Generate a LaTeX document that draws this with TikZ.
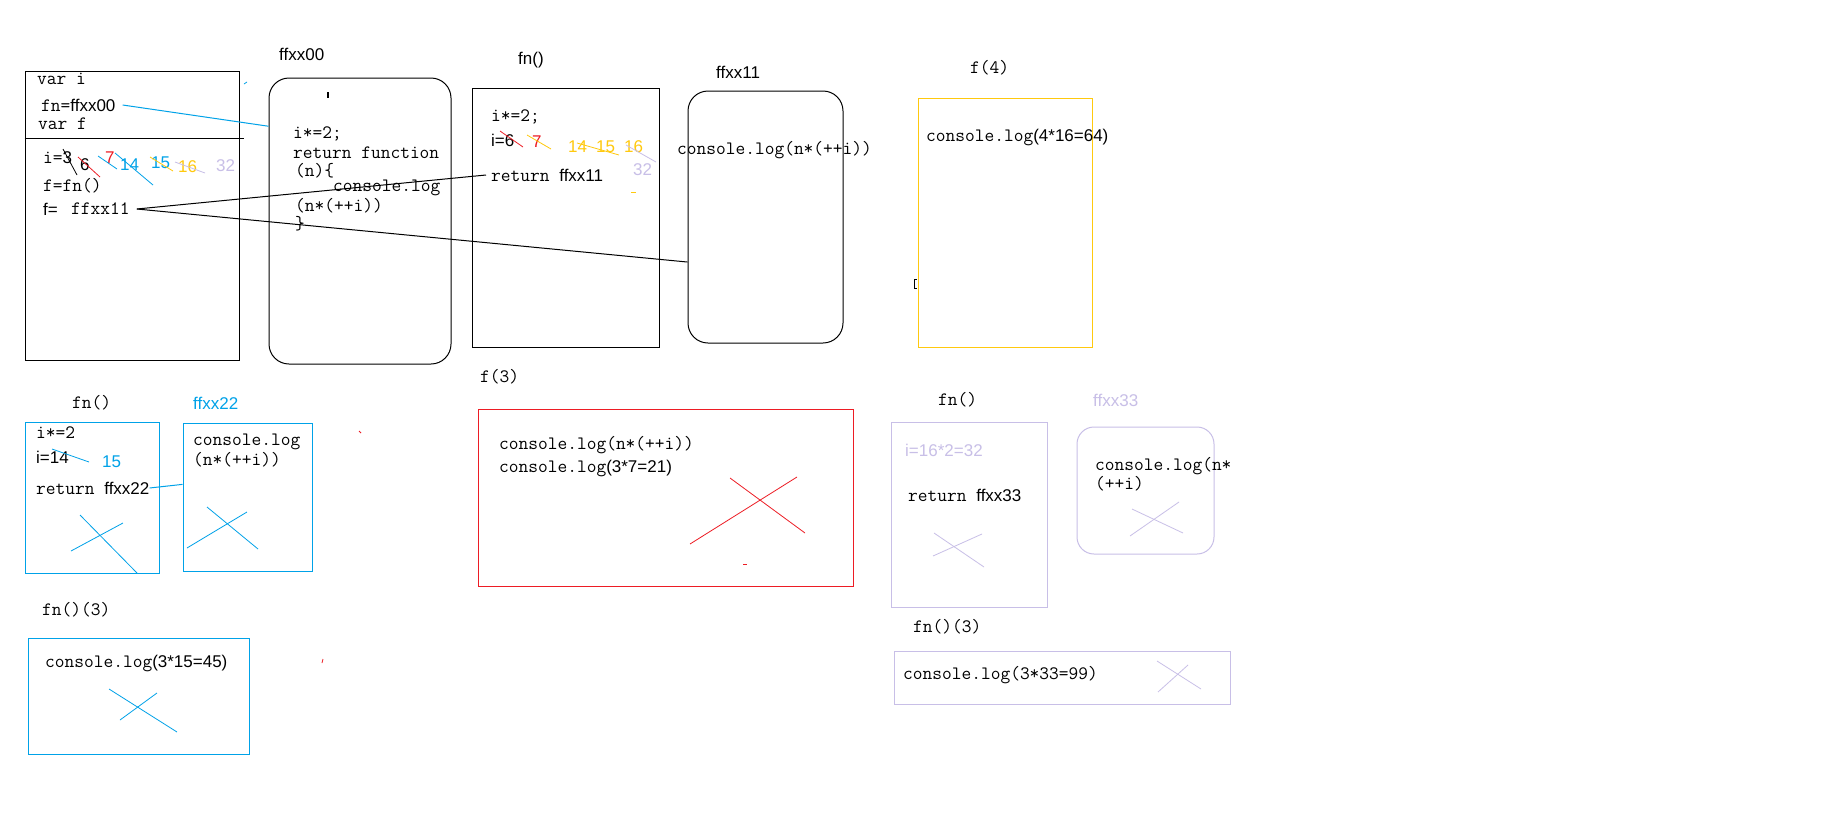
\documentclass[tikz,border=0pt]{standalone}
\usepackage{fontspec}
\setmainfont{Liberation Sans}
\setsansfont{Liberation Sans}
\usepackage{xcolor}
\usepackage{tikz}
\usetikzlibrary{calc}

\definecolor{pblue}{RGB}{0,162,232}
\definecolor{pred}{RGB}{237,28,36}
\definecolor{pyellow}{RGB}{255,201,14}
\definecolor{plav}{RGB}{200,191,231}

\newcommand{\sfpart}[1]{{\fontsize{17}{19}\selectfont\sffamily #1}}

\begin{document}
\begin{tikzpicture}[
    x=1pt, y=-1pt,
    stackbox/.style={rectangle, draw, line width=1pt, inner sep=0pt},
    heapbox/.style={stackbox, rounded corners=20pt},
    codetxt/.style={font=\fontsize{18.9}{20}\selectfont\ttfamily, anchor=west, inner sep=0pt},
    plaintxt/.style={font=\fontsize{17}{19}\selectfont\sffamily, anchor=west, inner sep=0pt},
    link/.style={line width=1pt},
    scrib/.style={line width=0.8pt},
]

\path[use as bounding box, fill=white] (0,0) rectangle (1832,828);

% === GLOBAL SCOPE ===
\node[stackbox, minimum width=214pt, minimum height=289pt] (glob) at (132,215.5) {};
\draw[link] (glob.north west) ++(0,68) -- ++(219,0);

\node[codetxt] (vari) at (37,79) {var i};
\node[codetxt] (fnval) at (41,105) {fn=\sfpart{ffxx00}};
\node[codetxt] (varf) at (38,124) {var f};
\node[codetxt] (ival) at (43,158) {i=\sfpart{3}};
\node[plaintxt] (gi6) at (80,165) {6};
\node[plaintxt, text=pred] (gi7) at (105,158) {7};
\node[plaintxt, text=pblue] (gi14) at (120,165) {14};
\node[plaintxt, text=pblue] (gi15) at (151,163) {15};
\node[plaintxt, text=pyellow] (gi16) at (178,167) {16};
\node[plaintxt, text=plav] (gi32) at (216,166) {32};
\node[codetxt] (fcall) at (43,186) {f=fn()};
\node[plaintxt] (feq) at (43,209) {f=};
\node[codetxt] (fval) at (71,209) {ffxx11};

% strike-outs
\draw[scrib] (63,149) -- (77,175);
\draw[scrib, pred] (78,157) -- (100,177);
\draw[scrib, pblue] (98,156) -- (117,169);
\draw[scrib, pblue] (115,153) -- (153,185);
\draw[scrib, pyellow] (150,157) -- (173,171);
\draw[scrib, plav] (175,162) -- (205,173);
\draw[scrib, pblue] (244,84) -- (247,82);

% === HEAP ffxx00 ===
\node[plaintxt] (lbl00) at (279,54) {ffxx00};
\node[heapbox, minimum width=182pt, minimum height=286pt] (heap00) at (360,221) {};
\draw[line width=2pt] (328,92) -- (328,98);
\node[codetxt] (h00a) at (293,134) {i*=2;};
\node[codetxt] (h00b) at (293,153) {return function};
\node[codetxt] (h00c) at (295,171) {(n)\{};
\node[codetxt] (h00d) at (333,188) {console.log};
\node[codetxt] (h00e) at (295,206) {(n*(++i))};
\node[codetxt] (h00f) at (295,224) {\}};

% === CALL fn() ===
\node[plaintxt] (lblfn1) at (518,60) {fn()};
\node[stackbox, minimum width=187pt, minimum height=259pt] (call1) at (565.5,217.5) {};
\node[codetxt] (c1a) at (491,117) {i*=2;};
\node[plaintxt] (c1b) at (491,140) {i=6};
\node[plaintxt, text=pred] (c1i7) at (532,142) {7};
\node[plaintxt, text=pyellow] (c1i14) at (568,147) {14};
\node[plaintxt, text=pyellow] (c1i15) at (596,147) {15};
\node[plaintxt, text=pyellow] (c1i16) at (624,147) {16};
\node[plaintxt, text=plav] (c1i32) at (633,170) {32};
\node[codetxt] (ret11) at (491,175) {return \sfpart{ffxx11}};
\draw[scrib, pred] (500,131) -- (523,147);
\draw[scrib, pyellow] (527,135) -- (551,149);
\draw[scrib, pyellow] (577,143) -- (619,155);
\draw[scrib, plav] (626,145) -- (656,162);
\draw[scrib, pyellow] (631,192) -- (636,192);

% === HEAP ffxx11 ===
\node[plaintxt] (lbl11) at (716,72) {ffxx11};
\node[heapbox, minimum width=155pt, minimum height=252pt] (heap11) at (765.5,217) {};
\node[codetxt] (h11a) at (677,150) {console.log(n*(++i))};

% === CALL f(4) ===
\node[codetxt] (lblf4) at (970,68) {f(4)};
\node[stackbox, pyellow, minimum width=174pt, minimum height=249pt] (callf4) at (1005,222.5) {};
\node[codetxt] (f4a) at (926,138) {console.log\sfpart{(4*16=64)}};
\draw[scrib] (917,279) -| (914,288) -- (917,288);

% === CALL fn() / ffxx22 ===
\node[codetxt] (lblfn2) at (72,403) {fn()};
\node[stackbox, pblue, minimum width=134pt, minimum height=151pt] (call2) at (92,497.5) {};
\node[codetxt] (c2a) at (36,433) {i*=2};
\node[plaintxt] (c2b) at (36,457) {i=14};
\node[plaintxt, text=pblue] (c2i15) at (102,462) {15};
\node[codetxt] (ret22) at (36,488) {return \sfpart{ffxx22}};
\draw[scrib, pblue] (52,449) -- (89,462);
\draw[scrib, pblue] (80,515) -- (137,573);
\draw[scrib, pblue] (71,551) -- (123,523);

\node[plaintxt, text=pblue] (lbl22) at (193,403) {ffxx22};
\node[stackbox, pblue, minimum width=129pt, minimum height=148pt] (heap22) at (247.5,497) {};
\node[codetxt] (h22a) at (193,442) {console.log};
\node[codetxt] (h22b) at (193,460) {(n*(++i))};
\draw[scrib, pblue] (207,507) -- (258,549);
\draw[scrib, pblue] (187,548) -- (247,512);

% === CALL f(3) ===
\node[codetxt] (lblf3) at (480,377) {f(3)};
\node[stackbox, pred, minimum width=375pt, minimum height=177pt] (callf3) at (665.5,497.5) {};
\node[codetxt] (f3a) at (499,445) {console.log(n*(++i))};
\node[codetxt] (f3b) at (499,468) {console.log\sfpart{(3*7=21)}};
\draw[scrib, pred] (730,478) -- (805,533);
\draw[scrib, pred] (690,544) -- (797,477);
\draw[scrib, pred] (743,564) -- (747,564);
\draw[scrib, pred] (359,431) -- (361,433);

% === CALL fn() / ffxx33 ===
\node[codetxt] (lblfn3) at (938,400) {fn()};
\node[stackbox, plav, minimum width=156pt, minimum height=185pt] (call3) at (969,514.5) {};
\node[plaintxt, text=plav] (c3a) at (905,450) {i=16*2=32};
\node[codetxt] (ret33) at (908,495) {return \sfpart{ffxx33}};
\draw[scrib, plav] (934,533) -- (984,567);
\draw[scrib, plav] (933,556) -- (982,534);

\node[plaintxt, text=plav] (lbl33) at (1093,400) {ffxx33};
\node[heapbox, plav, rounded corners=17pt, minimum width=137pt, minimum height=127pt] (heap33) at (1145.5,490.5) {};
\node[codetxt] (h33a) at (1095,466) {console.log(n*};
\node[codetxt] (h33b) at (1095,484) {(++i)};
\draw[scrib, plav] (1132,509) -- (1183,533);
\draw[scrib, plav] (1130,536) -- (1179,502);

% === CALLS fn()(3) ===
\node[codetxt] (lblfn3a) at (42,610) {fn()(3)};
\node[stackbox, pblue, minimum width=221pt, minimum height=116pt] (callfn3a) at (138.5,696) {};
\node[codetxt] (fn3a) at (45,663) {console.log\sfpart{(3*15=45)}};
\draw[scrib, pblue] (109,689) -- (177,732);
\draw[scrib, pblue] (120,720) -- (157,693);
\draw[scrib, pred] (323,659) -- (322,663);

\node[codetxt] (lblfn3b) at (913,627) {fn()(3)};
\node[stackbox, plav, minimum width=336pt, minimum height=53pt] (callfn3b) at (1062,677.5) {};
\node[codetxt] (fn3b) at (903,675) {console.log(3*33=99)};
\draw[scrib, plav] (1157,661) -- (1201,689);
\draw[scrib, plav] (1158,692) -- (1188,665);

% === REFERENCES ===
\draw[link, pblue] ([xshift=7pt]fnval.east) -- (heap00.134);
\draw[link] ([xshift=7pt]fval.east) -- ([xshift=-5pt]ret11.west);
\draw[link] ([xshift=7pt]fval.east) -- (heap11.210);
\draw[link, pblue] (ret22.east) -- (heap22.169);

\end{tikzpicture}
\end{document}
